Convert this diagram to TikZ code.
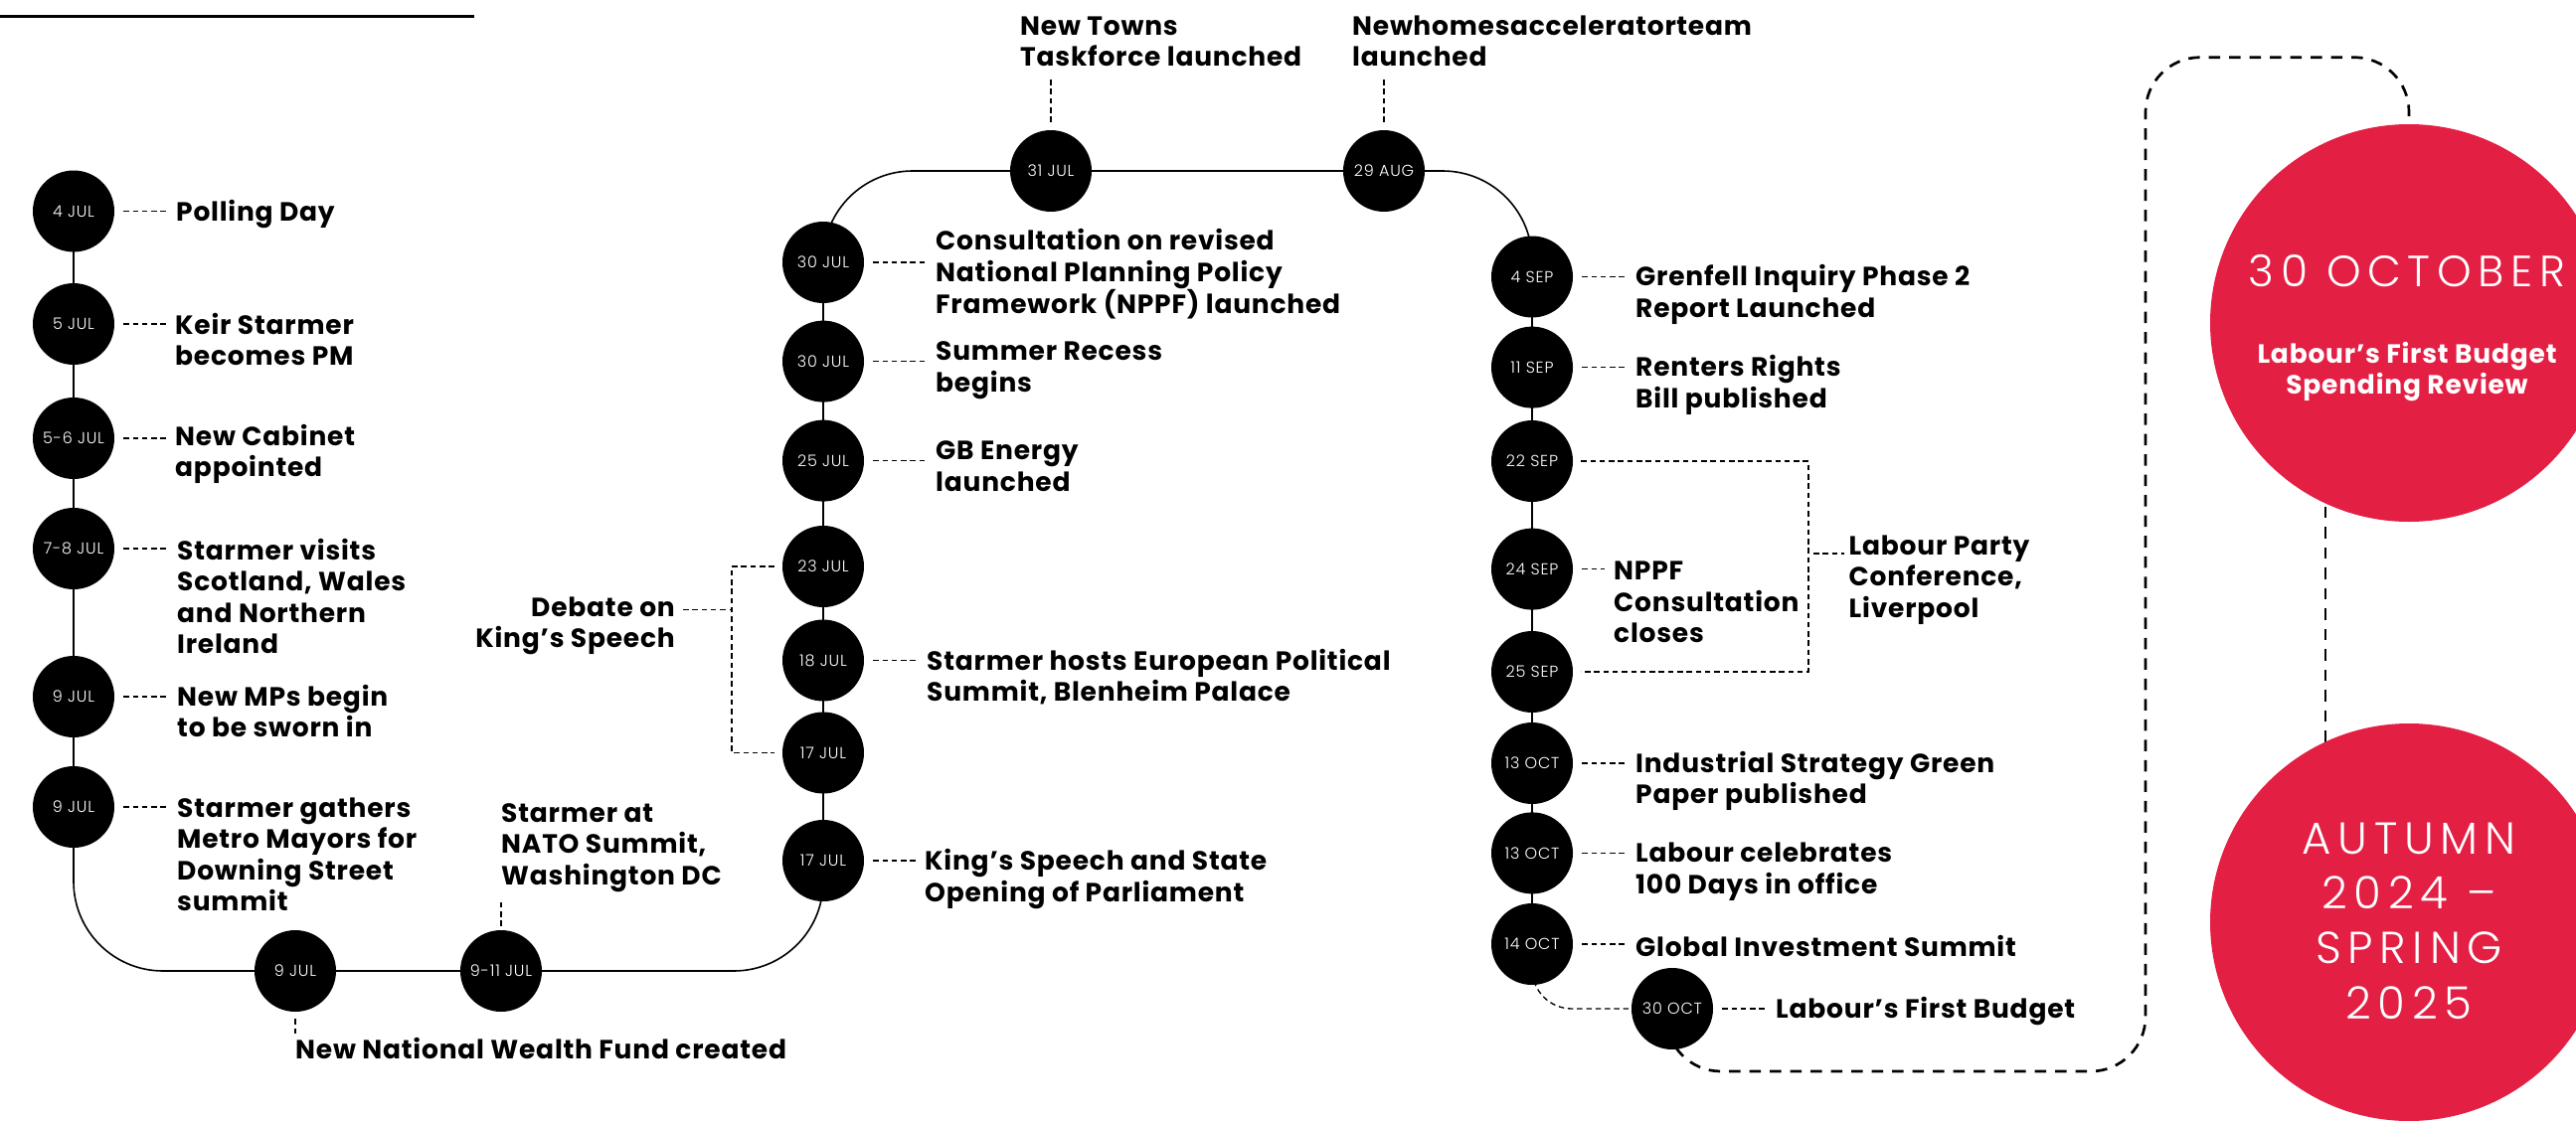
\documentclass[tikz,border=0pt]{standalone}
\usepackage{fontspec}
\setmainfont{Poppins}[LetterSpace=3]
\newfontfamily\datefont{Poppins Light}[LetterSpace=5]
\newfontfamily\bigfont{Poppins Light}[LetterSpace=15]
\usetikzlibrary{backgrounds}
\definecolor{labred}{RGB}{228,31,68}
\begin{document}
\begin{tikzpicture}[x=1pt,y=-1pt,
  datec/.style={circle, fill=black, minimum size=82pt, inner sep=0pt, text=white,
    font={\datefont\fontsize{16}{18}\selectfont}},
  % labels are placed at the baseline of their last line
  lab/.style={font={\bfseries\fontsize{26.5}{31.6}\selectfont}, align=left,
    inner sep=0pt, anchor=base west},
  leader/.style={line width=1.3pt, dash pattern=on 5.5pt off 3.8pt},
  spine/.style={line width=1.6pt, rounded corners=90pt},
  loopdash/.style={line width=2.7pt, dash pattern=on 11.5pt off 9pt},
  redc/.style={circle, fill=labred, minimum size=400pt, inner sep=0pt},
  bigtxt/.style={text=white, inner sep=0pt, anchor=base, align=center}]
\useasboundingbox (0,0) rectangle (2591,1127);

% heading rule
\draw[line width=2.6pt] (0,16.5) -- (477,16.5);

% July: first column
\node[datec] (j4)   at (74,212.5) {4 JUL};
\node[datec] (j5)   at (74,326)   {5 JUL};
\node[datec] (j56)  at (74,441)   {5-6 JUL};
\node[datec] (j78)  at (74,552)   {7-8 JUL};
\node[datec] (j9a)  at (74,701)   {9 JUL};
\node[datec] (j9b)  at (74,812)   {9 JUL};
% bottom run
\node[datec] (j9c)  at (297,977)  {9 JUL};
\node[datec] (j911) at (504,977)  {9-11 JUL};
% second column, read upwards
\node[datec] (j17a) at (828,866)   {17 JUL};
\node[datec] (j17b) at (828,757.5) {17 JUL};
\node[datec] (j18)  at (828,664.5) {18 JUL};
\node[datec] (j23)  at (828,570)   {23 JUL};
\node[datec] (j25)  at (828,463.6) {25 JUL};
\node[datec] (j30b) at (828,363.6) {30 JUL};
\node[datec] (j30a) at (828,264)   {30 JUL};
% top run
\node[datec] (j31)  at (1057,172) {31 JUL};
\node[datec] (a29)  at (1392,172) {29 AUG};
% third column
\node[datec] (s4)   at (1541,278.5) {4 SEP};
\node[datec] (s11)  at (1541,369.6) {11 SEP};
\node[datec] (s22)  at (1541,464)   {22 SEP};
\node[datec] (s24)  at (1541,572.6) {24 SEP};
\node[datec] (s25)  at (1541,676)   {25 SEP};
\node[datec] (o13a) at (1541,768)   {13 OCT};
\node[datec] (o13b) at (1541,858.4) {13 OCT};
\node[datec] (o14)  at (1541,950)   {14 OCT};
\node[datec] (o30)  at (1682,1015)  {30 OCT};

% event labels
\node[lab] (l4)   at (177,222)    {Polling Day};
\node[lab] (l5)   at (176,367.6)  {Keir Starmer\\becomes PM};
\node[lab] (l56)  at (176,479.6)  {New Cabinet\\appointed};
\node[lab] (l78)  at (178,657.8)  {Starmer visits\\Scotland, Wales\\and Northern\\Ireland};
\node[lab] (l9a)  at (178,741.6)  {New MPs begin\\to be sworn in};
\node[lab] (l9b)  at (178,916.8)  {Starmer gathers\\Metro Mayors for\\Downing Street\\summit};
\node[lab] (l9c)  at (297,1065.6) {New National Wealth Fund created};
\node[lab] (l911) at (504,890.2)  {Starmer at\\NATO Summit,\\Washington DC};
\node[lab, align=right, anchor=base east] (ldeb) at (679,651.6) {Debate on\\King’s Speech};
\node[lab] (l17)  at (930,907.3)  {King’s Speech and State\\Opening of Parliament};
\node[lab] (l18)  at (932,705.6)  {Starmer hosts European Political\\Summit, Blenheim Palace};
\node[lab] (l25)  at (941,494.1)  {GB Energy\\launched};
\node[lab] (l30b) at (941,394.1)  {Summer Recess\\begins};
\node[lab] (l30a) at (941,315)    {Consultation on revised\\National Planning Policy\\Framework (NPPF) launched};
\node[lab] (l31)  at (1026,66.6)  {New Towns\\Taskforce launched};
\node[lab] (l29)  at (1360,66.6)  {New\hspace{0.5pt}homes\hspace{0.5pt}accelerator\hspace{0.5pt}team\\launched};
\node[lab] (ls4)  at (1645,319.1) {Grenfell Inquiry Phase 2\\Report Launched};
\node[lab] (ls11) at (1645,410.2) {Renters Rights\\Bill published};
\node[lab] (ls24) at (1623,646.7) {NPPF\\Consultation\\closes};
\node[lab] (lconf) at (1859.5,621.2) {Labour Party\\Conference,\\Liverpool};
\node[lab] (lo13a) at (1645,808.6) {Industrial Strategy Green\\Paper published};
\node[lab] (lo13b) at (1645,899)   {Labour celebrates\\100 Days in office};
\node[lab] (lo14) at (1645,962)   {Global Investment Summit};
\node[lab] (lo30) at (1786,1024.7) {Labour’s First Budget};

% red key circles
\node[redc] (r1) at (2423,325) {};
\node[bigtxt, font={\bigfont\fontsize{44}{55}\selectfont}] (r1t) at (2421,288.6) {30 OCTOBER};
\node[bigtxt, font={\bfseries\fontsize{26.5}{31}\selectfont}] (r1s) at (2421,396) {Labour’s First Budget\\Spending Review};
\node[redc] (r2) at (2423,928) {};
\node[bigtxt, font={\bigfont\fontsize{45}{55.2}\selectfont}] (r2t) at (2423,1025.1) {AUTUMN\\2024 –\\SPRING\\2025};

% loop corner points
\coordinate (lc1) at (2158,1078);
\coordinate (lc2) at (2158,57.7);
% bracket joints
\coordinate (bl) at (736,613.5);
\coordinate (br) at (1819,557);

\begin{pgfonlayer}{background}
  % the timeline itself
  \draw[spine] (j4.center) |- (j9c.center) -| (j17a.center);
  \draw[spine] (j17a.center) |- (j31.center) -| (o14.center);
  \draw[leader, rounded corners=40pt] (o14.center) |- (o30.center);
  % outer dashed loop and link between the key circles
  \draw[loopdash, rounded corners=55pt] ([xshift=-6pt]o30.center) |- (lc1) -- (lc2) -| (r1.center);
  \draw[loopdash] ([xshift=-84pt]r1.center) -- ([xshift=-84pt]r2.center);
\end{pgfonlayer}

% leaders to the labels on the right
\foreach \c/\l in {j4/l4, j5/l5, j56/l56, j78/l78, j9a/l9a, j9b/l9b, j17a/l17, j18/l18,
    j25/l25, j30b/l30b, j30a/l30a, s4/ls4, s11/ls11, s24/ls24, o13a/lo13a, o13b/lo13b,
    o14/lo14, o30/lo30}
  \draw[leader] ([xshift=9pt]\c.east) -- ([xshift=-9pt]\c.east -| \l.west);

% vertical leaders
\draw[leader] ([yshift=-7pt]j9c.south) -- ([yshift=-23pt]j9c.south);
\draw[leader] ([yshift=4pt]j911.north) -- ([yshift=30pt]j911.north);
\draw[leader] ([yshift=8pt]j31.north) -- ([yshift=53pt]j31.north);
\draw[leader] ([yshift=8pt]a29.north) -- ([yshift=53pt]a29.north);

% brackets
\draw[leader] ([xshift=-8pt]j23.west) -| (bl) |- ([xshift=-8pt]j17b.west);
\draw[leader] ([xshift=8pt]ldeb.east |- bl) -- (bl);
\draw[leader] ([xshift=8pt]s22.east) -| (br) |- ([xshift=8pt]s25.east);
\draw[leader] ([xshift=5pt]br) -- ([xshift=-5pt]br -| lconf.west);
\end{tikzpicture}
\end{document}
